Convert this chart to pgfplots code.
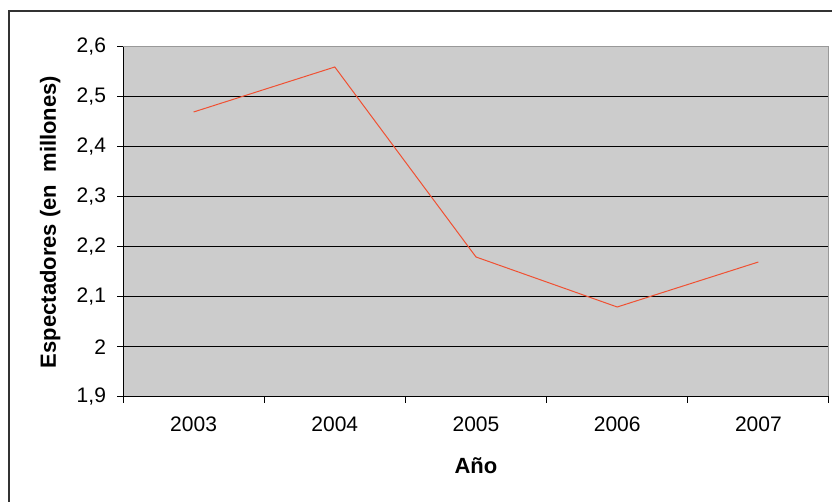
\documentclass[border=0pt]{standalone}
\usepackage{pgfplots}
\pgfplotsset{compat=1.18}
\usepackage{fontspec}
\setmainfont{Liberation Sans}
\definecolor{plotgray}{RGB}{204,204,204}
\definecolor{linered}{RGB}{240,80,50}
\begin{document}
\begin{tikzpicture}[x=1pt,y=1pt]
\useasboundingbox (0,0) rectangle (416,251);
% outer chart frame (cut off at right and bottom)
\draw[line width=1pt, black!80] (4.5,-2) -- (4.5,245.5) -- (420,245.5);
\begin{axis}[
  at={(61.5pt,52.5pt)}, anchor=south west,
  scale only axis, width=353pt, height=175pt,
  xmin=-0.5, xmax=4.5, ymin=1.9, ymax=2.6,
  axis background/.style={fill=plotgray},
  axis line style={draw=gray!80, line width=0.5pt},
  /pgf/number format/use comma,
  /pgf/number format/assume math mode=true,
  tick pos=left, tick align=outside,
  major tick length=3pt,
  tick style={black, line width=0.5pt},
  tick label style={font=\fontsize{10.5}{12}\selectfont},
  label style={font=\bfseries\fontsize{11}{13}\selectfont},
  % category boundaries carry the tick marks
  xtick={-0.5,0.5,1.5,2.5,3.5,4.5},
  xticklabels={},
  extra x ticks={0,1,2,3,4},
  extra x tick labels={2003,2004,2005,2006,2007},
  extra x tick style={major tick length=0pt, xticklabel style={yshift=-6.5pt}},
  ytick={1.9,2,2.1,2.2,2.3,2.4,2.5},
  extra y ticks={2.6},
  extra y tick style={grid=none},
  ymajorgrids,
  major grid style={black, line width=0.5pt},
  yticklabel style={xshift=-2pt},
  xlabel={Año},
  ylabel={Espectadores (en\ \ millones)},
  xlabel style={at={(axis description cs:0.5,-0.197)}, anchor=center},
  ylabel style={at={(axis description cs:-0.103,0.5)}, anchor=center, rotate=0},
]
\addplot[linered, line width=0.5pt] coordinates {
  (0,2.47) (1,2.56) (2,2.18) (3,2.08) (4,2.17)
};
\draw[black, line width=0.6pt] (rel axis cs:0,1) -- (rel axis cs:0,0) -- (rel axis cs:1,0);
\end{axis}
\end{tikzpicture}
\end{document}
